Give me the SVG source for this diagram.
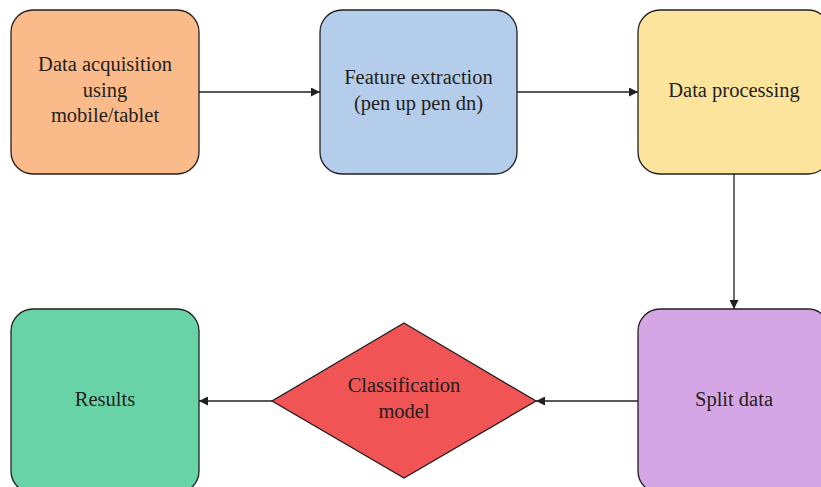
<svg xmlns="http://www.w3.org/2000/svg" width="821" height="487" viewBox="0 0 821 487">
<defs>
<style>
.n{stroke:#231f20;stroke-width:1.3}
.t{font-family:"Liberation Serif","Times New Roman",serif;font-size:20.5px;fill:#231f20;text-anchor:middle}
.c{stroke:#231f20;stroke-width:1.3;fill:none;marker-end:url(#ah)}
</style>
<marker id="ah" viewBox="0 0 10 10" refX="10" refY="5" markerWidth="9" markerHeight="9" markerUnits="userSpaceOnUse" orient="auto">
<path d="M0,0 L10,5 L0,10 z" fill="#231f20"/>
</marker>
</defs>
<rect width="821" height="487" fill="#ffffff"/>
<g id="connectors">
<line class="c" x1="199" y1="92" x2="320" y2="92"/>
<line class="c" x1="517" y1="92" x2="638" y2="92"/>
<line class="c" x1="734" y1="174" x2="734" y2="309"/>
<line class="c" x1="638" y1="401" x2="536" y2="401"/>
<line class="c" x1="272" y1="401" x2="199" y2="401"/>
</g>
<g id="acquisition">
<rect class="n" x="11" y="10" width="188" height="164" rx="22" fill="#fbba8a"/>
<text class="t" x="105" y="71">Data acquisition</text>
<text class="t" x="105" y="96.5">using</text>
<text class="t" x="105" y="122">mobile/tablet</text>
</g>
<g id="feature">
<rect class="n" x="320" y="10" width="197" height="164" rx="22" fill="#b3cdea"/>
<text class="t" x="418.5" y="84">Feature extraction</text>
<text class="t" x="418.5" y="109.5">(pen up pen dn)</text>
</g>
<g id="processing">
<rect class="n" x="638" y="10" width="192" height="164" rx="22" fill="#fde49d"/>
<text class="t" x="734" y="97">Data processing</text>
</g>
<g id="split">
<rect class="n" x="638" y="309" width="192" height="184" rx="22" fill="#d5a6e6"/>
<text class="t" x="734" y="406">Split data</text>
</g>
<g id="classification">
<polygon class="n" points="404,323 536,401 404,478 272,401" fill="#f05454"/>
<text class="t" x="404" y="392">Classification</text>
<text class="t" x="404" y="418">model</text>
</g>
<g id="results">
<rect class="n" x="11" y="309" width="188" height="184" rx="22" fill="#69d3a8"/>
<text class="t" x="105" y="406">Results</text>
</g>
</svg>
